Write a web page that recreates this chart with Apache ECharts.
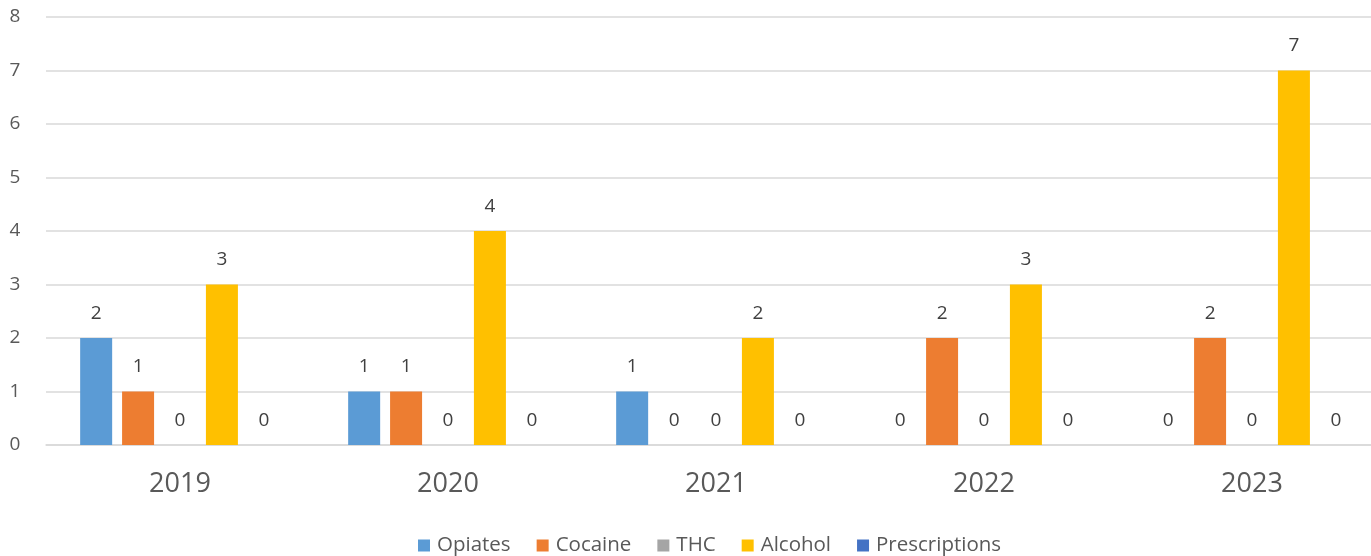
<!DOCTYPE html>
<html><head><meta charset="utf-8">
<script src="https://cdn.jsdelivr.net/npm/echarts@6/dist/echarts.min.js"></script>
<style>html,body{margin:0;padding:0;background:#fff;overflow:hidden;width:1371px;height:556px}#c{width:1386px;height:556px}</style>
</head><body><div id="c"></div>
<script>
const years = ['2019','2020','2021','2022','2023'];
const opiates = [2,1,1,0,0];
const cocaine = [1,1,0,2,2];
const thc = [0,0,0,0,0];
const alcohol = [3,4,2,3,7];
const prescriptions = [0,0,0,0,0];
const yTicks = {min:0,max:8,interval:1};

const names = ['Opiates','Cocaine','THC','Alcohol','Prescriptions'];
const colors = ['#5B9BD5','#ED7D31','#A5A5A5','#FFC000','#4472C4'];
const datas = [opiates,cocaine,thc,alcohol,prescriptions];
const font = '"Open Sans", sans-serif';

const chart = echarts.init(document.getElementById('c'));
chart.setOption({
  animation:false,
  color: colors,
  textStyle:{fontFamily:font},
  grid:{left:46,right:0,top:17,bottom:111,containLabel:false},
  legend:{
    bottom:-5, left:413, itemWidth:12, itemHeight:12, itemGap:26,
    icon:'rect',
    textStyle:{fontSize:20.5,color:'#595959',fontFamily:font,padding:[0,0,0,2]},
    data:names
  },
  xAxis:{type:'category',data:years,
    axisLine:{lineStyle:{color:'#D9D9D9',width:1.5}},axisTick:{show:false},
    axisLabel:{fontSize:27,color:'#595959',margin:26,fontFamily:font}},
  yAxis:{type:'value',min:yTicks.min,max:yTicks.max,interval:yTicks.interval,
    axisLine:{show:false},axisTick:{show:false},
    splitLine:{lineStyle:{color:'#D9D9D9',width:1.5}},
    axisLabel:{fontSize:19,color:'#595959',margin:31,fontFamily:font,align:'center'}},
  series: names.map((n,i)=>({
    name:n,type:'bar',data:datas[i],barWidth:32,barGap:'31%',
    itemStyle:{color:colors[i]},
    label:{show:true,position:'top',distance:15,fontSize:19,color:'#404040',fontFamily:font}
  }))
});
</script></body></html>
